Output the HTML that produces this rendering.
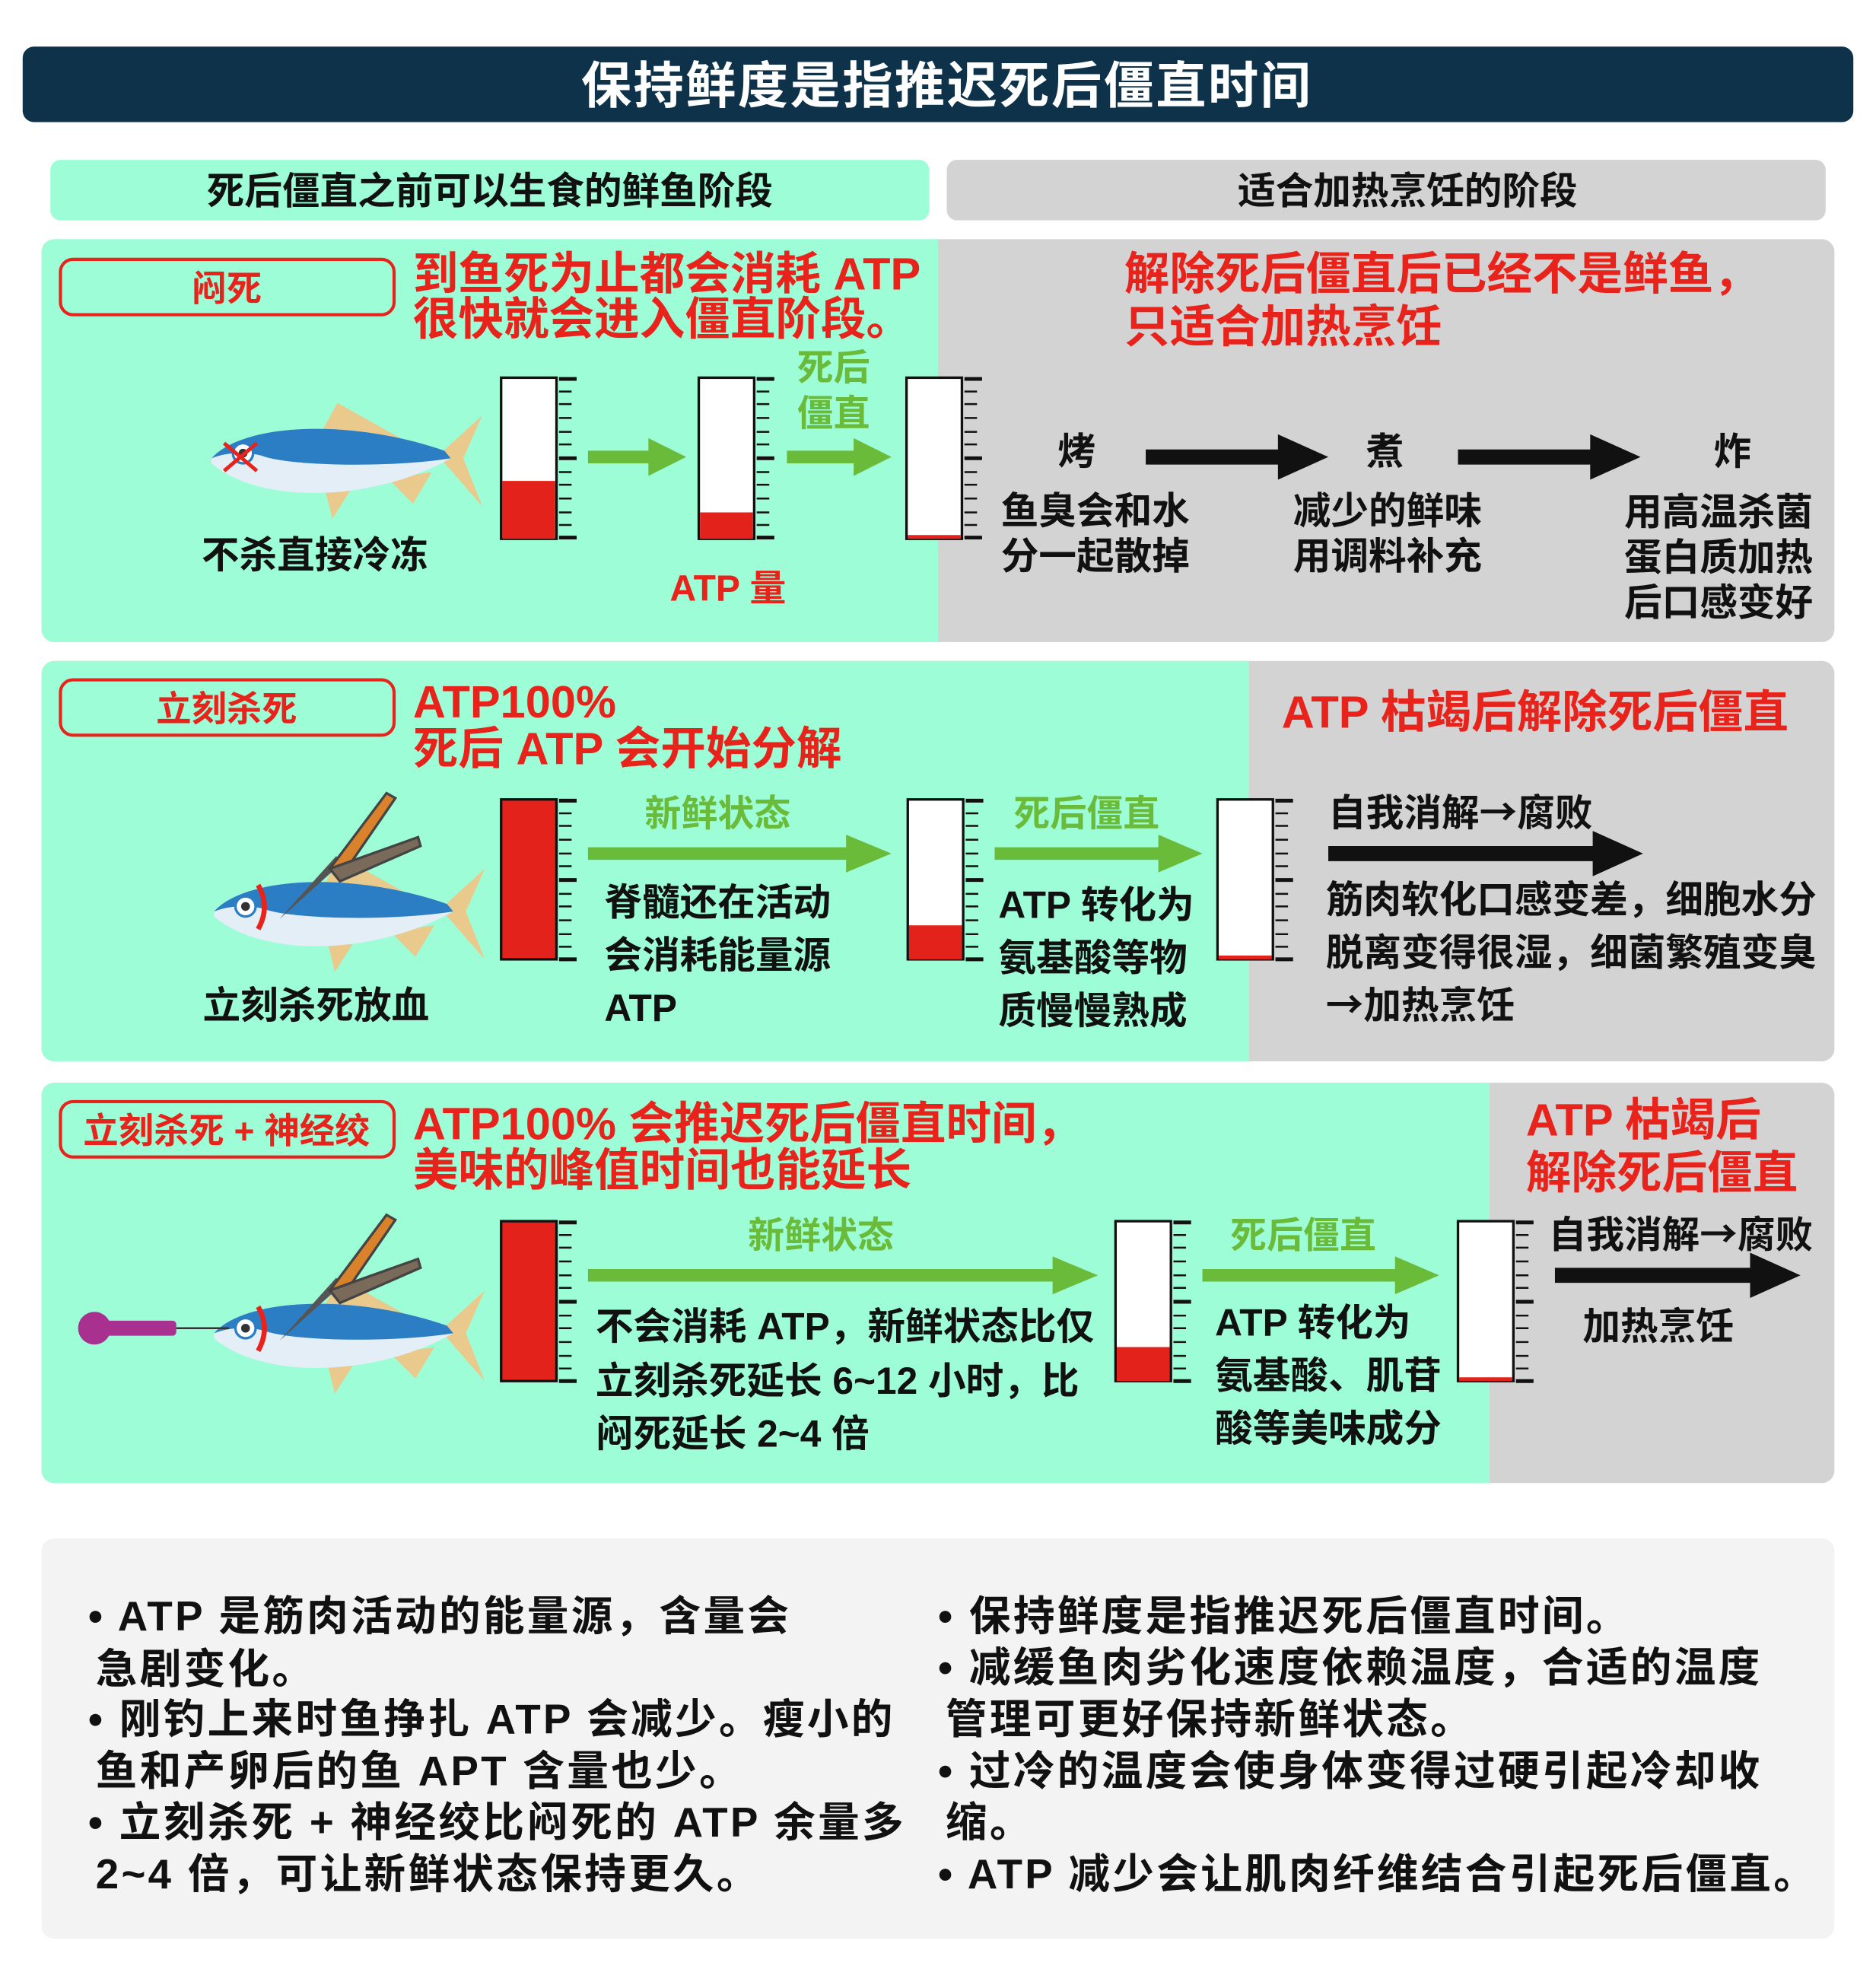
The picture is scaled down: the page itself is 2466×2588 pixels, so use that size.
<!DOCTYPE html>
<html><head><meta charset="utf-8"><style>
html,body{margin:0;padding:0;background:#fff;width:2466px;height:2588px;overflow:hidden}
svg{display:block}
text{font-family:"Liberation Sans","Noto Sans CJK SC",sans-serif;font-weight:700}
.b{font-size:30px;fill:#111}
.r{font-size:36px;fill:#e8231b}
.g{font-size:29px;fill:#6abb3a}
.w{font-size:33px;fill:#111;letter-spacing:2px}
.ar{font-family:"Noto Sans CJK SC",sans-serif}
</style></head><body>
<svg width="2466" height="2588" viewBox="0 0 1490 1564" preserveAspectRatio="none">
<defs>
<g id="ticks" stroke="#111">
<line x1="46" y1="1" x2="60" y2="1" stroke-width="3"/>
<line x1="46" y1="11" x2="56" y2="11" stroke-width="1.5"/>
<line x1="46" y1="21" x2="56" y2="21" stroke-width="1.5"/>
<line x1="46" y1="32" x2="56" y2="32" stroke-width="1.5"/>
<line x1="46" y1="43" x2="56" y2="43" stroke-width="1.5"/>
<line x1="46" y1="53" x2="56" y2="53" stroke-width="1.5"/>
<line x1="46" y1="64" x2="60" y2="64" stroke-width="3"/>
<line x1="46" y1="75" x2="56" y2="75" stroke-width="1.5"/>
<line x1="46" y1="85" x2="56" y2="85" stroke-width="1.5"/>
<line x1="46" y1="96" x2="56" y2="96" stroke-width="1.5"/>
<line x1="46" y1="107" x2="56" y2="107" stroke-width="1.5"/>
<line x1="46" y1="117" x2="56" y2="117" stroke-width="1.5"/>
<line x1="46" y1="127" x2="60" y2="127" stroke-width="3"/>
</g>
<g id="fish">
<polygon points="88,22 100,0 150,28 120,30" fill="#e9c98c"/>
<polygon points="90,68 96,92 110,70" fill="#e9c98c"/>
<polygon points="140,60 160,80 175,55" fill="#e9c98c"/>
<polygon points="180,42 215,10 200,44 215,82" fill="#e9c98c"/>
<path d="M0,44 C25,16 110,12 185,38 L190,44 C130,78 40,82 0,48 Z" fill="#e3eef6"/>
<path d="M0,44 C25,16 110,12 185,38 L190,44 C140,52 60,50 40,42 C25,38 10,40 0,44 Z" fill="#2b7ec4"/>
<circle cx="25" cy="40" r="8" fill="#fff" stroke="#2b7ec4" stroke-width="2"/>
<circle cx="25" cy="40" r="3.5" fill="#333"/>
</g>
<g id="pliers">
<path d="M0,70 L45,20 L50,25 Z" fill="#555"/>
<path d="M40,30 L85,-30 L92,-26 L50,35 Z" fill="#d9822b" stroke="#444" stroke-width="2"/>
<path d="M40,30 L110,5 L112,12 L48,40 Z" fill="#7a6a5a" stroke="#444" stroke-width="2"/>
</g>
</defs>

<rect x="18" y="37" width="1454" height="60" rx="9" fill="#0e3249"/>
<text x="752" y="82" text-anchor="middle" style="font-size:40px;fill:#fff;letter-spacing:1.5px">保持鲜度是指推迟死后僵直时间</text>

<rect x="40" y="127" width="698" height="48" rx="8" fill="#9dfdd6"/>
<text x="389" y="162" text-anchor="middle" class="b">死后僵直之前可以生食的鲜鱼阶段</text>
<rect x="752" y="127" width="698" height="48" rx="8" fill="#d3d3d3"/>
<text x="1118" y="162" text-anchor="middle" class="b">适合加热烹饪的阶段</text>

<!-- panel 1 -->
<rect x="33" y="190" width="1424" height="320" rx="10" fill="#d3d3d3"/>
<path d="M43,190 H745 V510 H43 A10,10 0 0 1 33,500 V200 A10,10 0 0 1 43,190Z" fill="#9dfdd6"/>
<rect x="48" y="206" width="265" height="44" rx="10" fill="none" stroke="#e8231b" stroke-width="2.5"/>
<text x="180" y="239" text-anchor="middle" style="font-size:28px;fill:#e8231b">闷死</text>
<text x="328" y="230" class="r">到鱼死为止都会消耗 ATP</text>
<text x="328" y="266" class="r">很快就会进入僵直阶段。</text>
<use href="#fish" transform="translate(168,320)"/>
<line x1="178" y1="352" x2="204" y2="374" stroke="#e8231b" stroke-width="3"/>
<line x1="204" y1="352" x2="178" y2="374" stroke="#e8231b" stroke-width="3"/>
<text x="250" y="451" text-anchor="middle" class="b">不杀直接冷冻</text>
<g transform="translate(398,300)"><rect x="0" y="0" width="44" height="128" fill="#fff" stroke="#111" stroke-width="2"/><rect x="1" y="82" width="42" height="46" fill="#e3231b"/><use href="#ticks"/></g>
<g transform="translate(555,300)"><rect x="0" y="0" width="44" height="128" fill="#fff" stroke="#111" stroke-width="2"/><rect x="1" y="107" width="42" height="21" fill="#e3231b"/><use href="#ticks"/></g>
<g transform="translate(720,300)"><rect x="0" y="0" width="44" height="128" fill="#fff" stroke="#111" stroke-width="2"/><rect x="1" y="125" width="42" height="3" fill="#e3231b"/><use href="#ticks"/></g>
<polygon points="467,358 515,358 515,348 545,363 515,378 515,368 467,368" fill="#6abb3a"/>
<polygon points="625,358 678,358 678,348 708,363 678,378 678,368 625,368" fill="#6abb3a"/>
<text x="633" y="302" class="g">死后</text>
<text x="633" y="338" class="g">僵直</text>
<text x="532" y="477" style="font-size:29px;fill:#e8231b">ATP 量</text>
<text x="893" y="230" class="r">解除死后僵直后已经不是鲜鱼，</text>
<text x="893" y="272" class="r">只适合加热烹饪</text>
<text x="855" y="369" text-anchor="middle" class="b">烤</text>
<text x="1100" y="369" text-anchor="middle" class="b">煮</text>
<text x="1376" y="369" text-anchor="middle" class="b">炸</text>
<polygon points="910,357 1015,357 1015,345 1055,363 1015,381 1015,369 910,369" fill="#111"/>
<polygon points="1158,357 1263,357 1263,345 1303,363 1263,381 1263,369 1158,369" fill="#111"/>
<text x="795" y="416" class="b">鱼臭会和水</text>
<text x="795" y="452" class="b">分一起散掉</text>
<text x="1027" y="416" class="b">减少的鲜味</text>
<text x="1027" y="452" class="b">用调料补充</text>
<text x="1290" y="417" class="b">用高温杀菌</text>
<text x="1290" y="453" class="b">蛋白质加热</text>
<text x="1290" y="489" class="b">后口感变好</text>

<!-- panel 2 -->
<rect x="33" y="525" width="1424" height="318" rx="10" fill="#d3d3d3"/>
<path d="M43,525 H992 V843 H43 A10,10 0 0 1 33,833 V535 A10,10 0 0 1 43,525Z" fill="#9dfdd6"/>
<rect x="48" y="540" width="265" height="44" rx="10" fill="none" stroke="#e8231b" stroke-width="2.5"/>
<text x="180" y="573" text-anchor="middle" style="font-size:28px;fill:#e8231b">立刻杀死</text>
<text x="328" y="570" class="r">ATP100%</text>
<text x="328" y="607" class="r">死后 ATP 会开始分解</text>
<use href="#fish" transform="translate(170,680)"/>
<use href="#pliers" transform="translate(222,660)"/>
<path d="M205,703 Q215,720 205,738" stroke="#e8231b" stroke-width="4" fill="none"/>
<text x="251" y="809" text-anchor="middle" class="b">立刻杀死放血</text>
<g transform="translate(398,635)"><rect x="0" y="0" width="44" height="127" fill="#e3231b" stroke="#111" stroke-width="2"/><use href="#ticks"/></g>
<g transform="translate(721,635)"><rect x="0" y="0" width="44" height="127" fill="#fff" stroke="#111" stroke-width="2"/><rect x="1" y="100" width="42" height="27" fill="#e3231b"/><use href="#ticks"/></g>
<g transform="translate(967,635)"><rect x="0" y="0" width="44" height="127" fill="#fff" stroke="#111" stroke-width="2"/><rect x="1" y="124" width="42" height="3" fill="#e3231b"/><use href="#ticks"/></g>
<text x="570" y="656" text-anchor="middle" class="g">新鲜状态</text>
<polygon points="467,673 672,673 672,663 708,678 672,693 672,683 467,683" fill="#6abb3a"/>
<text x="863" y="656" text-anchor="middle" class="g">死后僵直</text>
<polygon points="790,673 920,673 920,663 955,678 920,693 920,683 790,683" fill="#6abb3a"/>
<text x="480" y="727" class="b">脊髓还在活动</text>
<text x="480" y="769" class="b">会消耗能量源</text>
<text x="480" y="811" class="b">ATP</text>
<text x="793" y="729" class="b">ATP 转化为</text>
<text x="793" y="771" class="b">氨基酸等物</text>
<text x="793" y="813" class="b">质慢慢熟成</text>
<text x="1018" y="578" class="r">ATP 枯竭后解除死后僵直</text>
<text x="1055" y="656" class="b">自我消解<tspan class="ar">→</tspan>腐败</text>
<polygon points="1055,672 1265,672 1265,660 1305,678 1265,696 1265,684 1055,684" fill="#111"/>
<text x="1053" y="725" class="b">筋肉软化口感变差，细胞水分</text>
<text x="1053" y="767" class="b">脱离变得很湿，细菌繁殖变臭</text>
<text x="1053" y="809" class="b"><tspan class="ar">→</tspan>加热烹饪</text>

<!-- panel 3 -->
<rect x="33" y="860" width="1424" height="318" rx="10" fill="#d3d3d3"/>
<path d="M43,860 H1183 V1178 H43 A10,10 0 0 1 33,1168 V870 A10,10 0 0 1 43,860Z" fill="#9dfdd6"/>
<rect x="48" y="875" width="265" height="44" rx="10" fill="none" stroke="#e8231b" stroke-width="2.5"/>
<text x="180" y="908" text-anchor="middle" style="font-size:28px;fill:#e8231b">立刻杀死 + 神经绞</text>
<text x="328" y="905" class="r">ATP100%  会推迟死后僵直时间，</text>
<text x="328" y="942" class="r">美味的峰值时间也能延长</text>
<use href="#fish" transform="translate(170,1015)"/>
<use href="#pliers" transform="translate(222,995)"/>
<path d="M205,1038 Q215,1055 205,1073" stroke="#e8231b" stroke-width="4" fill="none"/>
<ellipse cx="75" cy="1055" rx="13" ry="13" fill="#a8308f"/>
<rect x="80" y="1049" width="60" height="12" rx="3" fill="#a8308f"/>
<line x1="140" y1="1055" x2="182" y2="1055" stroke="#333" stroke-width="1.5"/>
<g transform="translate(398,970)"><rect x="0" y="0" width="44" height="127" fill="#e3231b" stroke="#111" stroke-width="2"/><use href="#ticks"/></g>
<g transform="translate(886,970)"><rect x="0" y="0" width="44" height="127" fill="#fff" stroke="#111" stroke-width="2"/><rect x="1" y="100" width="42" height="27" fill="#e3231b"/><use href="#ticks"/></g>
<g transform="translate(1158,970)"><rect x="0" y="0" width="44" height="127" fill="#fff" stroke="#111" stroke-width="2"/><rect x="1" y="124" width="42" height="3" fill="#e3231b"/><use href="#ticks"/></g>
<text x="652" y="991" text-anchor="middle" class="g">新鲜状态</text>
<polygon points="467,1008 836,1008 836,998 872,1013 836,1028 836,1018 467,1018" fill="#6abb3a"/>
<text x="1035" y="991" text-anchor="middle" class="g">死后僵直</text>
<polygon points="955,1008 1108,1008 1108,998 1143,1013 1108,1028 1108,1018 955,1018" fill="#6abb3a"/>
<text x="473" y="1064" class="b">不会消耗 ATP，新鲜状态比仅</text>
<text x="473" y="1107" class="b">立刻杀死延长 6~12 小时，比</text>
<text x="473" y="1149" class="b">闷死延长 2~4 倍</text>
<text x="965" y="1061" class="b">ATP 转化为</text>
<text x="965" y="1103" class="b">氨基酸、肌苷</text>
<text x="965" y="1145" class="b">酸等美味成分</text>
<text x="1212" y="902" class="r">ATP 枯竭后</text>
<text x="1212" y="944" class="r">解除死后僵直</text>
<text x="1230" y="991" class="b">自我消解<tspan class="ar">→</tspan>腐败</text>
<polygon points="1235,1007 1390,1007 1390,995 1430,1013 1390,1031 1390,1019 1235,1019" fill="#111"/>
<text x="1257" y="1064" class="b">加热烹饪</text>

<!-- bottom box -->
<rect x="33" y="1222" width="1424" height="318" rx="10" fill="#f3f3f3"/>
<text x="70" y="1295" class="w">•  ATP 是筋肉活动的能量源，含量会</text>
<text x="76" y="1337" class="w">急剧变化。</text>
<text x="70" y="1377" class="w">•  刚钓上来时鱼挣扎 ATP 会减少。瘦小的</text>
<text x="76" y="1418" class="w">鱼和产卵后的鱼 APT 含量也少。</text>
<text x="70" y="1459" class="w">•  立刻杀死 + 神经绞比闷死的 ATP 余量多</text>
<text x="76" y="1500" class="w">2~4 倍，可让新鲜状态保持更久。</text>
<text x="745" y="1295" class="w">•  保持鲜度是指推迟死后僵直时间。</text>
<text x="745" y="1336" class="w">•  减缓鱼肉劣化速度依赖温度，合适的温度</text>
<text x="751" y="1377" class="w">管理可更好保持新鲜状态。</text>
<text x="745" y="1418" class="w">•  过冷的温度会使身体变得过硬引起冷却收</text>
<text x="751" y="1459" class="w">缩。</text>
<text x="745" y="1500" class="w">• ATP 减少会让肌肉纤维结合引起死后僵直。</text>
</svg>
</body></html>
